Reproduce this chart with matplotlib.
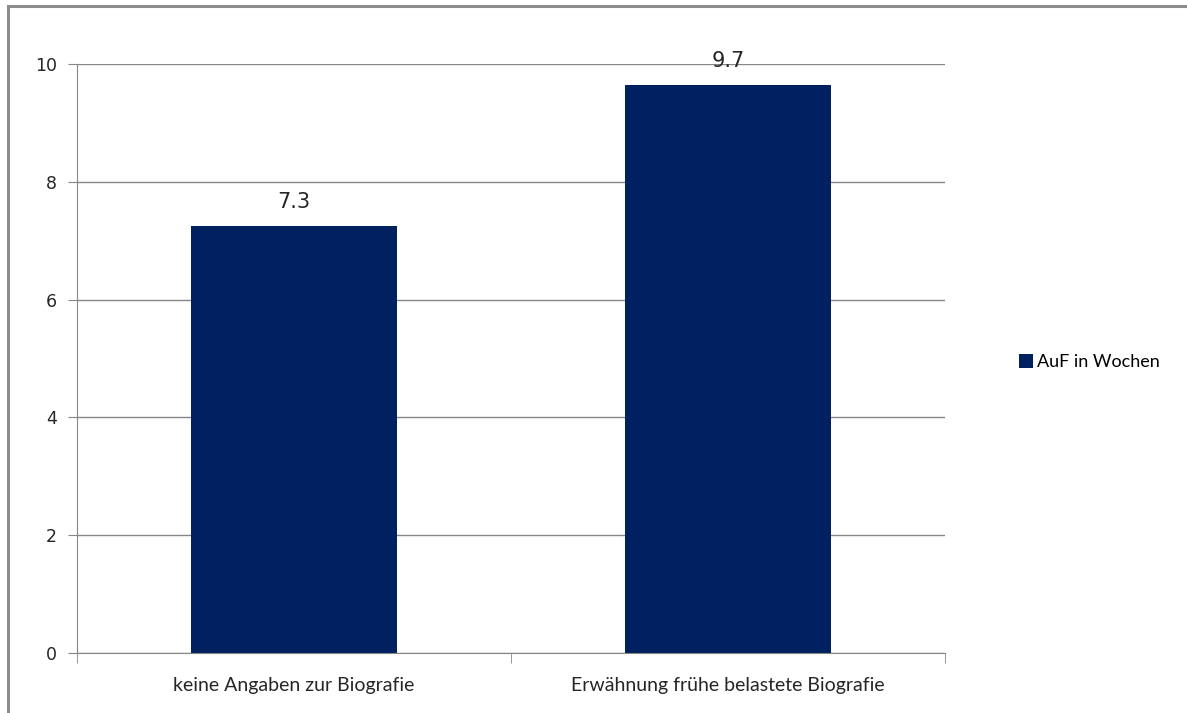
#!/usr/bin/env python3

import matplotlib
matplotlib.use("Agg")
import matplotlib.pyplot as plt
from matplotlib.patches import Rectangle, Patch

categories = ["keine Angaben zur Biografie", "Erwähnung frühe belastete Biografie"]
values = [7.25, 9.65]
value_labels = ["7.3", "9.7"]
series_name = "AuF in Wochen"
yticks = [0, 2, 4, 6, 8, 10]

bar_color = "#002060"
grid_color = "#868686"


def draw():
    plt.rcParams['font.family'] = ['DejaVu Sans']
    fig = plt.figure(figsize=(11.87, 7.13), dpi=100)
    ax = fig.add_axes([0.0649, 0.0842, 0.7312, 0.826])

    x = list(range(len(categories)))
    ax.bar(x, values, width=0.475, color=bar_color, zorder=3)

    for xi, v, lab in zip(x, values, value_labels):
        ax.annotate(lab, (xi, v), xytext=(0, 10), textcoords="offset points",
                    ha="center", va="bottom", fontsize=15, color="#262626")

    ax.set_xlim(-0.5, len(categories) - 0.5)
    ax.set_ylim(0, 10)
    ax.set_yticks(yticks)
    ax.set_yticklabels([str(t) for t in yticks], fontsize=12.5, color="#262626")
    ax.yaxis.grid(True, color=grid_color, linewidth=1, zorder=0)

    # category labels, separator ticks at the category borders
    ax.set_xticks(x)
    ax.set_xticklabels(categories, fontsize=14, family=['Lato', 'DejaVu Sans'],
                       color="#262626")
    ax.tick_params(axis="x", length=0, pad=17)
    ax.set_xticks([-0.5, 0.5, 1.5], minor=True)
    ax.tick_params(axis="x", which="minor", length=7, color=grid_color, direction="out")
    ax.tick_params(axis="y", length=6.5, color=grid_color, direction="out", pad=8)

    for s in ["top", "right"]:
        ax.spines[s].set_visible(False)
    for s in ["left", "bottom"]:
        ax.spines[s].set_color(grid_color)
        ax.spines[s].set_zorder(4)

    fig.legend(handles=[Patch(facecolor=bar_color, label=series_name)],
               loc="center left", bbox_to_anchor=(0.845, 0.492),
               frameon=False, handlelength=0.75, handleheight=0.75,
               handletextpad=0.25, prop={'family': ['Lato', 'DejaVu Sans'], 'size': 13})

    # outer frame of the chart object
    fig.patches.append(Rectangle((8 / 1187, -0.1), 1.2, (713 - 6) / 713 + 0.1,
                                 transform=fig.transFigure, fill=False,
                                 edgecolor="#8c8c8c", linewidth=2.2))

    fig.savefig("out.png", dpi=100)


if __name__ == "__main__":
    draw()
